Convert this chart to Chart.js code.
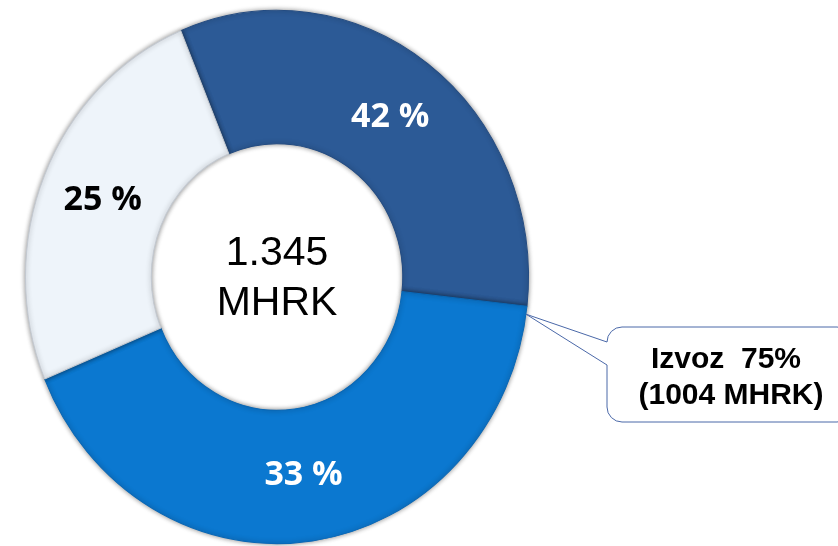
<!DOCTYPE html>
<html>
<head>
<meta charset="utf-8">
<script src="https://cdn.jsdelivr.net/npm/chart.js@4.4.1/dist/chart.umd.min.js"></script>
<style>
  html, body { margin: 0; padding: 0; background: #ffffff; }
  #wrap { width: 838px; height: 546px; position: relative; }
</style>
</head>
<body>
<div id="wrap"><canvas id="c" width="838" height="546"></canvas></div>
<script>
// ---- data ----
const categories   = ['42 %', '33 %', '25 %'];     // label texts printed on the ring
const sliceShares  = [33, 42, 25];                 // ring shares as drawn (percent)
const centerLines  = ['1.345', 'MHRK'];
const calloutLines = ['Izvoz  75%', '(1004 MHRK)'];

// ---- styles ----
const sliceColors  = ['#2c5a96', '#0b78d0', '#eef4fa'];
const edgeColors   = ['#244c82', '#0a68b6', '#c3c9d1'];
const labelColors  = ['#ffffff', '#ffffff', '#000000'];
const Y_STRETCH = 1.06;

const stretchPlugin = {
  id: 'stretch',
  beforeDatasetsDraw(chart) {
    const meta = chart.getDatasetMeta(0);
    const arc = meta.data[0];
    const ctx = chart.ctx;
    ctx.save();
    ctx.translate(arc.x, arc.y);
    ctx.scale(1, Y_STRETCH);
    ctx.translate(-arc.x, -arc.y);
    ctx.shadowColor = 'rgba(0,0,0,0.45)';
    ctx.shadowBlur = 5;
  },
  afterDatasetsDraw(chart) {
    const ctx = chart.ctx;
    ctx.restore();
    const meta = chart.getDatasetMeta(0);
    // slice labels
    ctx.save();
    ctx.font = 'bold 34px "Open Sans", Lato, sans-serif';
    ctx.textAlign = 'center';
    ctx.textBaseline = 'middle';
    meta.data.forEach((el, i) => {
      const p = el.getCenterPoint();
      const y = el.y + (p.y - el.y) * Y_STRETCH;
      ctx.fillStyle = labelColors[i];
      ctx.fillText(categories[i], p.x, y);
    });
    // center text
    const a0 = meta.data[0];
    ctx.fillStyle = '#000000';
    ctx.font = '41px "Liberation Sans", Arial, sans-serif';
    ctx.textBaseline = 'alphabetic';
    ctx.fillText(centerLines[0], a0.x, a0.y - 12);
    ctx.fillText(centerLines[1], a0.x, a0.y + 38);

    // callout anchored at outer edge where slice 2 starts
    const b = meta.data[1];
    const ang = b.startAngle + 0.03;
    const ax = b.x + b.outerRadius * Math.cos(ang);
    const ay = b.y + b.outerRadius * Math.sin(ang) * Y_STRETCH;
    const L = 607, T = 327, R = 852, B = 422, r = 15;
    ctx.beginPath();
    ctx.moveTo(L + r, T);
    ctx.lineTo(R - r, T);
    ctx.arcTo(R, T, R, T + r, r);
    ctx.lineTo(R, B - r);
    ctx.arcTo(R, B, R - r, B, r);
    ctx.lineTo(L + r, B);
    ctx.arcTo(L, B, L, B - r, r);
    ctx.lineTo(L, 365);
    ctx.lineTo(ax, ay);
    ctx.lineTo(L, 342);
    ctx.lineTo(L, T + r);
    ctx.arcTo(L, T, L + r, T, r);
    ctx.closePath();
    ctx.fillStyle = '#ffffff';
    ctx.fill();
    ctx.lineWidth = 1;
    ctx.strokeStyle = '#4a68a8';
    ctx.stroke();
    ctx.fillStyle = '#000000';
    ctx.font = 'bold 30px "Liberation Sans", Arial, sans-serif';
    ctx.textAlign = 'center';
    ctx.fillText(calloutLines[0], 726, 368);
    ctx.fillText(calloutLines[1], 731, 404);
    ctx.restore();
  }
};

new Chart(document.getElementById('c'), {
  type: 'doughnut',
  data: {
    labels: categories,
    datasets: [{
      data: sliceShares,
      backgroundColor: sliceColors,
      borderColor: edgeColors,
      borderWidth: 1,
      clip: false
    }]
  },
  options: {
    responsive: false,
    animation: false,
    cutout: '50%',
    rotation: -22.5,
    layout: { padding: { left: 25, right: 309, top: 25, bottom: 17 } },
    plugins: { legend: { display: false }, tooltip: { enabled: false } },
    events: []
  },
  plugins: [stretchPlugin]
});
</script>
</body>
</html>
